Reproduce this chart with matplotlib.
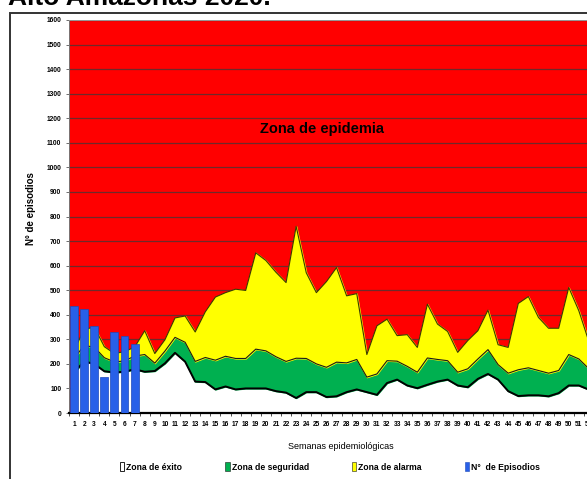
import matplotlib
matplotlib.use('Agg')
import matplotlib.pyplot as plt
from matplotlib.patches import Patch, Rectangle

# semanas epidemiológicas
weeks = list(range(1, 53))

# limites de los canales endémicos (valores acumulados)
exito = [165, 210, 200, 170, 165, 168, 178, 168, 171, 202, 245, 209, 128, 126, 96, 108, 96, 100,
         100, 100, 89, 83, 61, 85, 85, 65, 68, 85, 96, 85, 74, 122, 136, 112, 101, 115,
         128, 136, 112, 105, 139, 159, 136, 89, 69, 72, 72, 68, 81, 112, 112, 95]
seguridad = [222, 275, 268, 225, 208, 212, 232, 238, 203, 252, 308, 288, 210, 226, 215, 231, 222, 222,
             260, 253, 229, 210, 223, 222, 200, 186, 207, 204, 218, 146, 159, 213, 211, 190, 166, 224,
             218, 213, 166, 180, 220, 258, 197, 162, 176, 184, 173, 162, 173, 238, 220, 180]
alarma = [255, 340, 350, 270, 242, 250, 268, 335, 242, 298, 387, 395, 330, 412, 472, 490, 504, 499,
          652, 621, 573, 531, 760, 571, 490, 535, 592, 477, 486, 238, 355, 382, 315, 319, 267, 443,
          362, 332, 247, 295, 335, 419, 278, 267, 446, 474, 389, 345, 345, 511, 416, 290]

# episodios notificados 2020
ep_weeks = [1, 2, 3, 4, 5, 6, 7]
episodios = [436, 424, 355, 147, 328, 314, 280]

arial = ['Liberation Sans', 'DejaVu Sans']

fig = plt.figure(figsize=(5.87, 4.79), dpi=100)
ax = fig.add_axes([69 / 587, 1 - 413 / 479, 525 / 587, 393 / 479])

ax.set_facecolor('#FF0000')
ax.fill_between(weeks, 0, exito, color='white', zorder=1)
ax.fill_between(weeks, exito, seguridad, color='#00B050', zorder=1)
ax.fill_between(weeks, seguridad, alarma, color='#FFFF00', zorder=1)
ax.plot(weeks, alarma, color='#3a3a00', lw=0.8, zorder=2)
ax.plot(weeks, seguridad, color='#1a1a1a', lw=0.8, zorder=2)
ax.plot(weeks, exito, color='black', lw=1.4, zorder=2)

ax.bar(ep_weeks, episodios, width=0.78, color='#2860E8', edgecolor='#1d49b8', lw=0.5, zorder=3)

ax.set_xlim(0.5, 52.5)
ax.set_ylim(0, 1600)
ax.set_yticks(range(0, 1700, 100))
ax.set_xticks(weeks)
ax.set_xticks([w + 0.5 for w in range(0, 53)], minor=True)
ax.yaxis.grid(True, color='#6e2a2a', lw=0.9)
ax.set_axisbelow(True)

for lab in ax.get_yticklabels() + ax.get_xticklabels():
    lab.set_family(arial)
    lab.set_fontweight('bold')
    lab.set_fontsize(4.8)
ax.tick_params(axis='y', length=2.5, width=0.6, pad=3, color='#555555')
ax.tick_params(axis='x', which='major', length=0, pad=6)
ax.tick_params(axis='x', which='minor', length=2.5, width=0.6, color='#333333')

ax.spines['bottom'].set_linewidth(1.6)
ax.spines['left'].set_color('#777777')
ax.spines['left'].set_linewidth(0.7)
ax.spines['top'].set_color('#999999')
ax.spines['top'].set_linewidth(0.7)
ax.spines['right'].set_visible(False)

ax.set_ylabel('N° de episodios', fontsize=7, fontweight='bold', family=arial)
ax.yaxis.set_label_coords(-0.063, 0.52)
ax.set_xlabel('Semanas epidemiológicas', fontsize=6.5, family=arial)
ax.xaxis.set_label_coords((341 - 69) / 525, -29 / 393)

ax.text(25.6, 1156, 'Zona de epidemia', fontsize=10.5, fontweight='bold',
        family=arial, ha='center', va='center', zorder=4)

handles = [Patch(facecolor='white', edgecolor='black', lw=0.6),
           Patch(facecolor='#00B050', edgecolor='#1a1a1a', lw=0.4),
           Patch(facecolor='#FFFF00', edgecolor='#1a1a1a', lw=0.4),
           Patch(facecolor='#2860E8', edgecolor='#1d49b8', lw=0.4)]
labels = ['Zona de éxito', 'Zona de seguridad', 'Zona de alarma', 'N°  de Episodios']
fig.legend(handles, labels, loc='center', bbox_to_anchor=(330 / 587, 1 - 467 / 479), ncol=4,
           frameon=False, handlelength=0.5, handleheight=1.1, handletextpad=0.25,
           columnspacing=5.0, prop={'family': arial, 'weight': 'bold', 'size': 6.2})

# marco del gráfico
fig.add_artist(Rectangle((10 / 587, -0.05), 1.2, 1 - 13 / 479 + 0.05, transform=fig.transFigure,
                         fill=False, edgecolor='#333333', lw=1.4, clip_on=False))

fig.text(8 / 587, 1 - 5 / 479, 'Alto Amazonas 2020.', fontsize=19, fontweight='bold',
         family=arial, ha='left', va='baseline')

fig.savefig('out.png', dpi=100)
